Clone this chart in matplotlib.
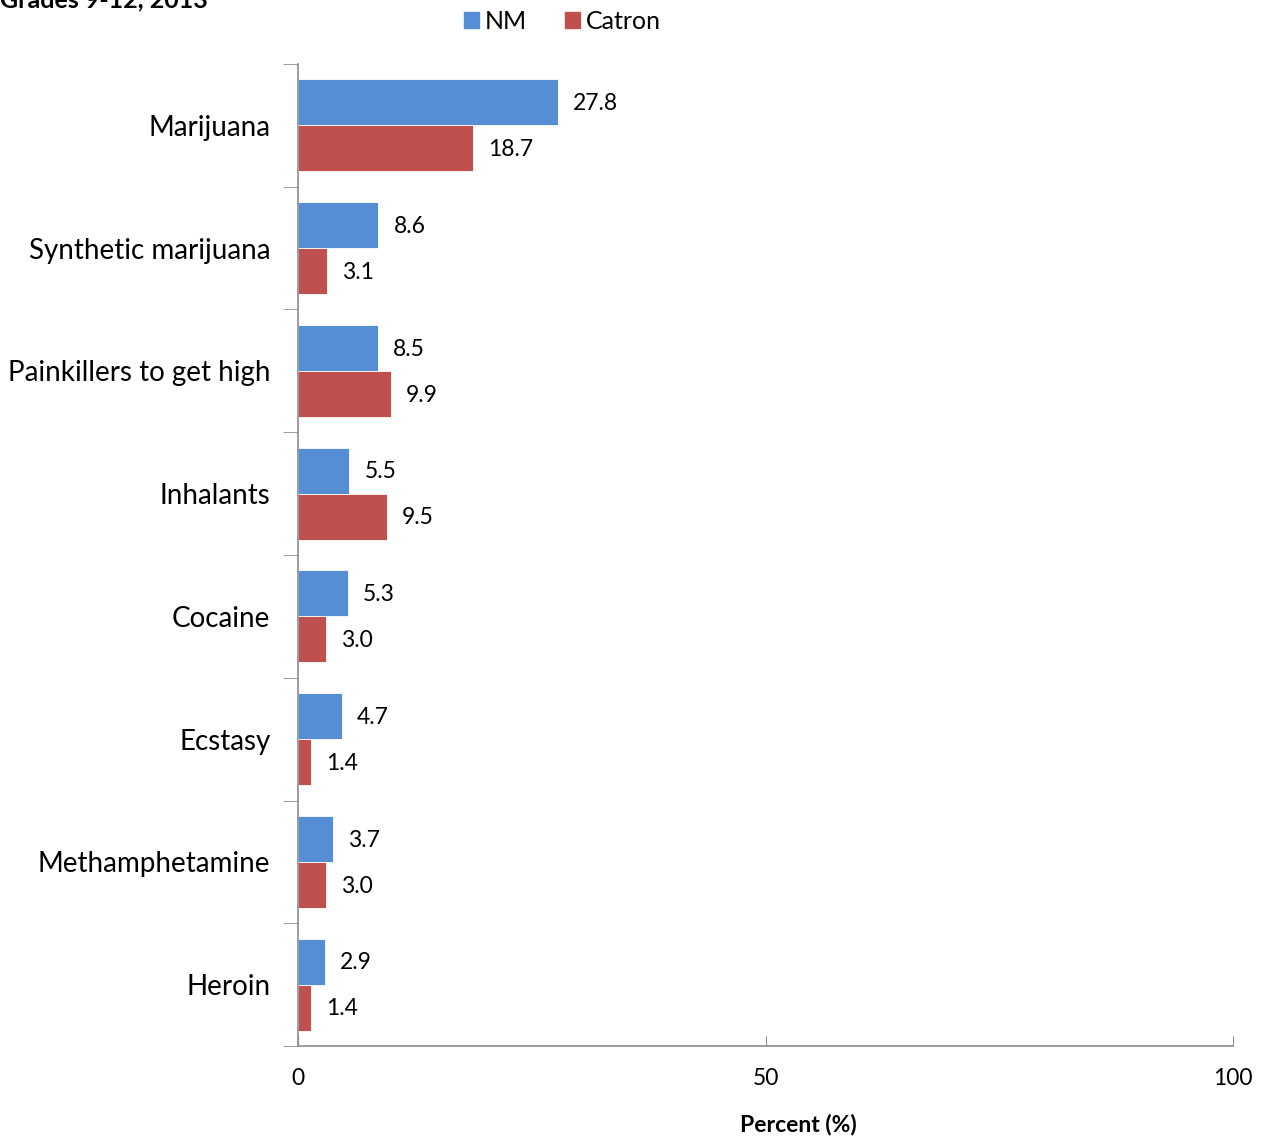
import numpy as np
import matplotlib.pyplot as plt
from matplotlib.patches import Patch

# Lifetime drug use, grades 9-12
categories = ["Marijuana", "Synthetic marijuana", "Painkillers to get high",
              "Inhalants", "Cocaine", "Ecstasy", "Methamphetamine", "Heroin"]
nm = [27.8, 8.6, 8.5, 5.5, 5.3, 4.7, 3.7, 2.9]
catron = [18.7, 3.1, 9.9, 9.5, 3.0, 1.4, 3.0, 1.4]
xticks = [0, 50, 100]

blue = "#558ED5"
red = "#C0504D"
grey = "#8C8C8C"

plt.rcParams['font.family'] = ['Lato', 'DejaVu Sans']

fig = plt.figure(figsize=(12.64, 11.38), dpi=100)
ax = fig.add_axes([0.2358, 0.0808, 0.7397, 0.863])

n = len(categories)
y = np.arange(n)
h = 0.375
ax.barh(y - h / 2, nm, height=h, color=blue, edgecolor="white", linewidth=0.6)
ax.barh(y + h / 2, catron, height=h, color=red, edgecolor="white", linewidth=0.6)

for yi, v in zip(y, nm):
    ax.text(v + 1.6, yi - h / 2 + 0.01, f"{v:.1f}", va="center", ha="left", fontsize=16.5)
for yi, v in zip(y, catron):
    ax.text(v + 1.6, yi + h / 2 + 0.01, f"{v:.1f}", va="center", ha="left", fontsize=16.5)

ax.set_xlim(0, 100)
ax.set_ylim(n - 0.5, -0.5)
ax.set_xticks(xticks)
ax.set_xticklabels([str(t) for t in xticks], fontsize=16.5)
ax.tick_params(axis="x", direction="in", length=7, color=grey, pad=16)

ax.set_yticks(y)
ax.set_yticklabels(categories, fontsize=20)
ax.tick_params(axis="y", length=0, pad=20)
# category separator ticks
ax.set_yticks(np.arange(n + 1) - 0.5, minor=True)
ax.tick_params(axis="y", which="minor", direction="out", length=11, color=grey)

for s in ["top", "right"]:
    ax.spines[s].set_visible(False)
for s in ["left", "bottom"]:
    ax.spines[s].set_color(grey)
    ax.spines[s].set_linewidth(1.2)

ax.set_xlabel("Percent (%)", fontsize=16.5, fontweight="bold")
ax.xaxis.set_label_coords(0.535, -0.069)

handles = [Patch(color=blue, label="NM"), Patch(color=red, label="Catron")]
fig.legend(handles=handles, loc="center", bbox_to_anchor=(0.445, 0.981), ncol=2,
           frameon=False, fontsize=18, handlelength=0.6, handleheight=0.6,
           handletextpad=0.25, columnspacing=1.5)

fig.text(0.0, 1.0, "Grades 9-12, 2013", fontsize=18, fontweight="bold",
         ha="left", va="center")

fig.savefig("out.png", dpi=100)
